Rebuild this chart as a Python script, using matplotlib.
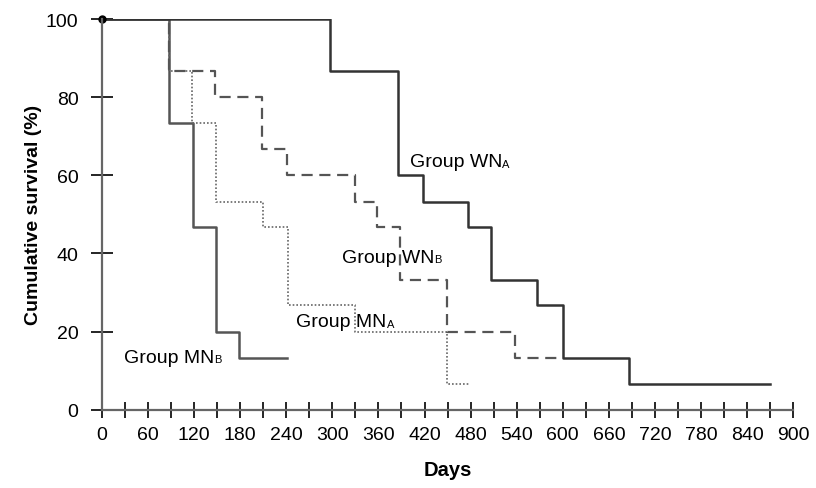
import matplotlib
matplotlib.use('Agg')
import matplotlib.pyplot as plt
import numpy as np

plt.rcParams['font.family'] = ['Liberation Sans', 'DejaVu Sans']

# survival data (days, % surviving)
wna_days = [0, 297, 385, 418, 477, 507, 567, 600, 686, 870]
wna_surv = [100, 86.7, 60, 53.3, 46.7, 33.3, 26.7, 13.3, 6.7, 6.7]

wnb_days = [0, 87, 147, 208, 241, 329, 358, 388, 449, 538, 600]
wnb_surv = [100, 86.7, 80, 66.7, 60, 53.3, 46.7, 33.3, 20, 13.3, 13.3]

mna_days = [0, 87, 117, 148, 210, 242, 329, 449, 479]
mna_surv = [100, 86.7, 73.3, 53.3, 46.7, 26.7, 20, 6.7, 6.7]

mnb_days = [0, 87, 118, 148, 178, 241]
mnb_surv = [100, 73.3, 46.7, 20, 13.3, 13.3]

labels = ['Group WN', 'Group WN', 'Group MN', 'Group MN']
subs = ['A', 'B', 'A', 'B']
label_pos = [(401, 63.5), (312, 39), (253, 22.5), (29, 13.5)]

fig = plt.figure(figsize=(8.16, 4.89), dpi=100)
ax = fig.add_axes([0.125, 0.16, 0.847, 0.799])

ax.step(mnb_days, mnb_surv, where='post', color='#555555', lw=1.8)
ax.step(mna_days, mna_surv, where='post', color='#666666', lw=1.2, linestyle=(0, (1, 1.2)))
ax.step(wnb_days, wnb_surv, where='post', color='#555555', lw=1.6, linestyle=(0, (5, 3)))
ax.step(wna_days, wna_surv, where='post', color='#333333', lw=1.8)
ax.plot(0, 100, 'o', color='black', ms=5, clip_on=False)

for txt, sub, (x, y) in zip(labels, subs, label_pos):
    t = ax.text(x, y, txt, fontsize=14, va='center', ha='left')
    # small subscript letter sitting on the baseline
    ax.annotate(sub, xy=(1, 0), xycoords=t, fontsize=8, va='bottom', ha='left',
                xytext=(0, 1), textcoords='offset points')

ax.set_xlim(0, 900)
ax.set_ylim(0, 100)
ax.spines['top'].set_visible(False)
ax.spines['right'].set_visible(False)
ax.spines['left'].set_color('#666666')
ax.spines['bottom'].set_color('#666666')
ax.spines['left'].set_linewidth(1.6)
ax.spines['bottom'].set_linewidth(1.6)

ax.set_xticks(np.arange(0, 901, 60))
ax.set_xticks(np.arange(30, 900, 60), minor=True)
ax.set_yticks(np.arange(0, 101, 20))
ax.tick_params(axis='x', which='both', direction='inout', length=12, width=1.2, labelsize=14, pad=6)
ax.tick_params(axis='y', direction='inout', length=16, width=1.2, labelsize=14, pad=9)

ax.set_xlabel('Days', fontsize=14.5, fontweight='bold', labelpad=12)
ax.set_ylabel('Cumulative survival (%)', fontsize=14, fontweight='bold', labelpad=3)

fig.savefig('out.png', dpi=100)
